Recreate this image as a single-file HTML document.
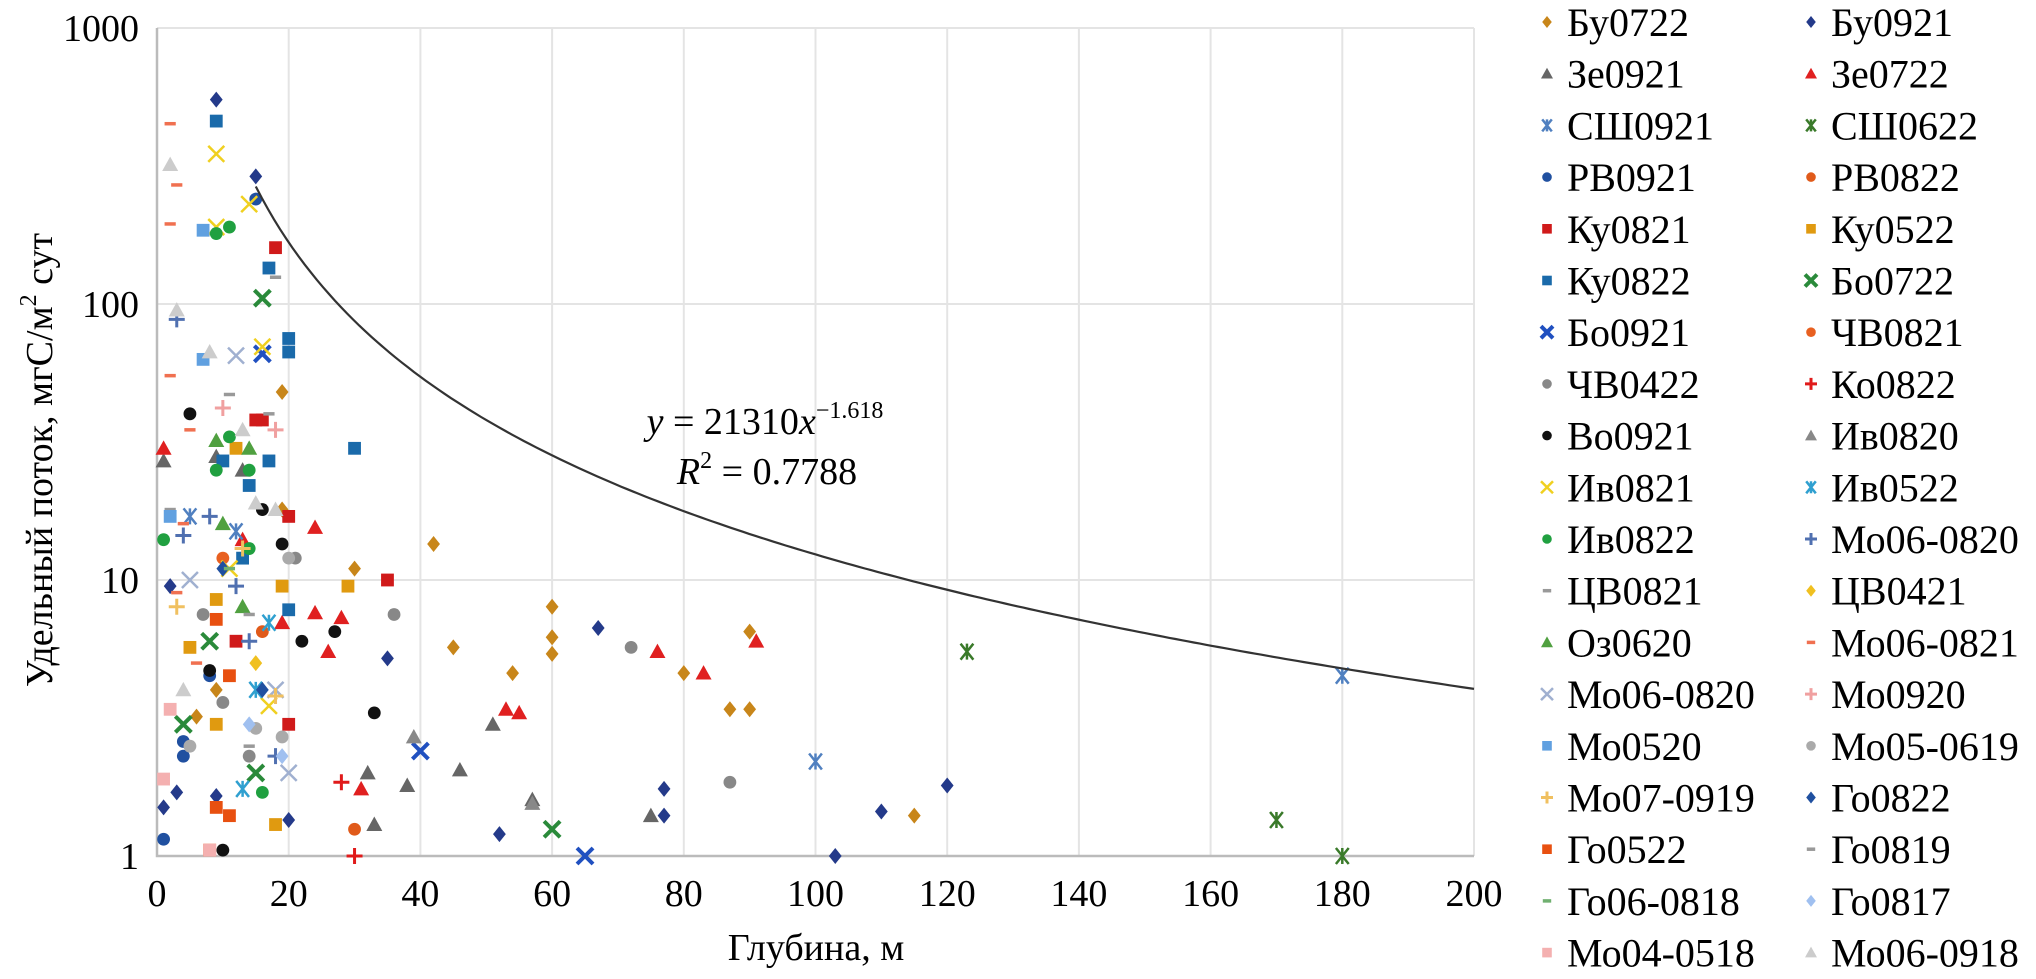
<!DOCTYPE html>
<html><head><meta charset="utf-8"><style>
body{margin:0;background:#fff;}
#chart, #chart text{font-family:"Liberation Serif","Noto Serif CJK SC",serif;}
</style></head><body>
<svg id="chart" width="2036" height="974" xmlns="http://www.w3.org/2000/svg" font-family="Liberation Serif, serif">
<g id="grid"></g>
<g id="axes"></g>
<g id="points"></g>
<path id="trend" fill="none" stroke="#333" stroke-width="2.2"/>
<text x="765" y="434" font-size="38" text-anchor="middle" font-family="Liberation Serif, serif"><tspan font-style="italic">y</tspan> = 21310<tspan font-style="italic">x</tspan><tspan font-size="24" dy="-16">−1.618</tspan></text>
<text x="767" y="484" font-size="38" text-anchor="middle" font-family="Liberation Serif, serif"><tspan font-style="italic">R</tspan><tspan font-size="24" dy="-16">2</tspan><tspan dy="16"> = 0.7788</tspan></text>
<text x="816" y="960" font-size="38" text-anchor="middle" font-family="Liberation Serif, serif">Глубина, м</text>
<text transform="translate(52,460) rotate(-90)" font-size="38" text-anchor="middle" font-family="Liberation Serif, serif">Удельный поток, мгС/м<tspan font-size="24" dy="-16">2</tspan><tspan dy="16"> сут</tspan></text>
<g id="legend"></g>
</svg>
<script>
const xTicks=[0,20,40,60,80,100,120,140,160,180,200];
const yTicks=[1,10,100,1000];
const seriesNames=["Бу0722","Бу0921","Зе0921","Зе0722","СШ0921","СШ0622","РВ0921","РВ0822","Ку0821","Ку0522","Ку0822","Бо0722","Бо0921","ЧВ0821","ЧВ0422","Ко0822","Во0921","Ив0820","Ив0821","Ив0522","Ив0822","Мо06-0820","ЦВ0821","ЦВ0421","Оз0620","Мо06-0821","Мо06-0820","Мо0920","Мо0520","Мо05-0619","Мо07-0919","Го0822","Го0522","Го0819","Го06-0818","Го0817","Мо04-0518","Мо06-0918"];
const seriesColors=["#c8861a","#243a8a","#666","#e02020","#5080c0","#3a7a2a","#2050a0","#e05a1a","#d01a1a","#e09a10","#1a6aaa","#2a8a3a","#2050c0","#e86020","#888","#e01a1a","#111","#888","#f0d020","#30a0d0","#20a040","#5070b0","#999","#f0c020","#50a040","#f07050","#a0b0d0","#f0a0a0","#60a0e0","#aaa","#f0c060","#2050a0","#e85010","#999","#70b070","#a0c0f0","#f4b0b0","#ccc"];
const seriesShapes=["diamond","diamond","triangle","triangle","star","star","circle","circle","square","square","square","xthick","xthick","circle","circle","plus","circle","triangle","x","star","circle","plus","dash","diamond","triangle","dash","x","plus","square","circle","plus","diamond","square","dash","dash","diamond","square","triangle"];
const s0=[[19,48],[30,11],[42,13.5],[45,5.7],[54,4.6],[60,8],[60,6.2],[60,5.4],[80,4.6],[87,3.4],[90,3.4],[90,6.5],[115,1.4],[19,18],[9,4],[6,3.2]];
const s1=[[9,550],[15,290],[2,9.5],[35,5.2],[52,1.2],[67,6.7],[77,1.75],[77,1.4],[103,1],[110,1.45],[120,1.8],[3,1.7],[1,1.5],[20,1.35],[9,1.65]];
const s2=[[1,27],[32,2],[33,1.3],[38,1.8],[46,2.05],[51,3],[57,1.6],[75,1.4],[9,28],[13,25]];
const s3=[[1,30],[24,15.5],[24,7.6],[26,5.5],[28,7.3],[31,1.75],[53,3.4],[55,3.3],[76,5.5],[83,4.6],[91,6],[13,14],[19,7]];
const s4=[[100,2.2],[180,4.5],[12,15],[5,17]];
const s5=[[123,5.5],[170,1.35],[180,1]];
const s6=[[15,240],[4,2.3],[1,1.15],[8,4.5],[4,2.6]];
const s7=[[30,1.25],[16,6.5]];
const s8=[[18,160],[15,38],[35,10],[20,17],[20,3],[12,6],[16,38]];
const s9=[[9,3],[19,9.5],[29,9.5],[18,1.3],[9,8.5],[5,5.7],[12,30]];
const s10=[[9,460],[17,135],[20,75],[30,30],[17,27],[10,27],[20,7.8],[13,12],[14,22],[20,67]];
const s11=[[16,105],[60,1.25],[4,3],[15,2],[8,6]];
const s12=[[16,66],[40,2.4],[65,1]];
const s13=[[10,12]];
const s14=[[72,5.7],[87,1.85],[36,7.5],[21,12],[10,3.6],[7,7.5],[14,2.3]];
const s15=[[28,1.85],[30,1]];
const s16=[[33,3.3],[5,40],[19,13.5],[22,6],[27,6.5],[10,1.05],[16,18],[8,4.7]];
const s17=[[39,2.7],[57,1.55]];
const s18=[[9,350],[9,190],[14,230],[16,70],[11,11],[17,3.5]];
const s19=[[15,4],[13,1.75],[17,7]];
const s20=[[9,180],[11,190],[9,25],[11,33],[14,13],[16,1.7],[1,14],[14,25]];
const s21=[[3,88],[4,14.5],[14,6],[12,9.5],[18,2.3],[8,17]];
const s22=[[18,125],[17,40],[11,47],[2,18],[14,2.5]];
const s23=[[15,5]];
const s24=[[9,32],[14,30],[13,8],[10,16]];
const s25=[[2,450],[3,270],[2,195],[2,55],[5,35],[4,16],[3,9],[6,5]];
const s26=[[12,65],[20,2],[18,4],[5,10]];
const s27=[[10,42],[18,35]];
const s28=[[7,185],[2,17],[7,63]];
const s29=[[20,12],[19,2.7],[5,2.5],[15,2.9]];
const s30=[[13,13],[18,3.8],[3,8]];
const s31=[[16,4],[10,11]];
const s32=[[11,4.5],[9,1.5],[11,1.4],[8,1.05],[9,7.2]];
const s33=[[14,7.5]];
const s34=[[11,11]];
const s35=[[14,3],[19,2.3]];
const s36=[[1,1.9],[2,3.4],[8,1.05]];
const s37=[[2,320],[3,95],[8,67],[13,35],[4,4],[15,19],[18,18]];
const seriesData=[s0,s1,s2,s3,s4,s5,s6,s7,s8,s9,s10,s11,s12,s13,s14,s15,s16,s17,s18,s19,s20,s21,s22,s23,s24,s25,s26,s27,s28,s29,s30,s31,s32,s33,s34,s35,s36,s37];
const trendA=21310, trendB=-1.618, trendX0=15, trendX1=200;

const NS="http://www.w3.org/2000/svg";
const X0=157,X1=1474,Y0=856,Y1=28;
const xs=v=>X0+(v-0)/(200-0)*(X1-X0);
const ys=v=>Y0-(Math.log10(v)-0)/3*(Y0-Y1);
function mk(tag,attrs,parent){const e=document.createElementNS(NS,tag);for(const k in attrs)e.setAttribute(k,attrs[k]);parent.appendChild(e);return e;}
const FF='Liberation Serif, serif';
const grid=document.getElementById('grid'),axes=document.getElementById('axes');
xTicks.forEach(t=>{if(t>0){const l=mk('line',{x1:xs(t),x2:xs(t),y1:Y1,y2:Y0,stroke:'#e4e4e4','stroke-width':2},grid);}
 const tx=mk('text',{x:xs(t),y:Y0+50,'font-size':38,'text-anchor':'middle','font-family':FF},axes);tx.textContent=t;});
yTicks.forEach(t=>{if(t>1){const l=mk('line',{x1:X0,x2:X1,y1:ys(t),y2:ys(t),stroke:'#e4e4e4','stroke-width':2},grid);}
 const tx=mk('text',{x:X0-18,y:ys(t)+13,'font-size':38,'text-anchor':'end','font-family':FF},axes);tx.textContent=t;});
const ax=mk('path',{d:`M${X0},${Y1}V${Y0}H${X1}`,fill:'none',stroke:'#bbb','stroke-width':2.5},axes);



function marker(shape,color,cx,cy,r,parent){
 const g=mk('g',{},parent);
 if(shape==='diamond')mk('path',{d:`M${cx},${cy-r}L${cx+r*0.8},${cy}L${cx},${cy+r}L${cx-r*0.8},${cy}Z`,fill:color},g);
 else if(shape==='triangle')mk('path',{d:`M${cx},${cy-r}L${cx+r},${cy+r*0.8}L${cx-r},${cy+r*0.8}Z`,fill:color},g);
 else if(shape==='circle')mk('circle',{cx,cy,r:r*0.8,fill:color},g);
 else if(shape==='square')mk('rect',{x:cx-r*0.8,y:cy-r*0.8,width:r*1.6,height:r*1.6,fill:color},g);
 else if(shape==='x'||shape==='xthick')mk('path',{d:`M${cx-r},${cy-r}L${cx+r},${cy+r}M${cx+r},${cy-r}L${cx-r},${cy+r}`,stroke:color,'stroke-width':shape==='x'?2.5:4},g);
 else if(shape==='plus')mk('path',{d:`M${cx-r},${cy}H${cx+r}M${cx},${cy-r}V${cy+r}`,stroke:color,'stroke-width':3},g);
 else if(shape==='star')mk('path',{d:`M${cx-r*0.8},${cy-r}L${cx+r*0.8},${cy+r}M${cx+r*0.8},${cy-r}L${cx-r*0.8},${cy+r}M${cx},${cy-r}V${cy+r}`,stroke:color,'stroke-width':2.5},g);
 else if(shape==='dash')mk('path',{d:`M${cx-r*0.7},${cy}H${cx+r*0.7}`,stroke:color,'stroke-width':3.5},g);
 return g;
}
const pts=document.getElementById('points');
seriesData.forEach((arr,i)=>{arr.forEach(p=>{const m=marker(seriesShapes[i],seriesColors[i],xs(p[0]),ys(p[1]),8,pts);
 
 });});
let d='';for(let k=0;k<=200;k++){const x=trendX0+(trendX1-trendX0)*k/200;d+=(k?'L':'M')+xs(x).toFixed(1)+','+ys(trendA*Math.pow(x,trendB)).toFixed(1);}
document.getElementById('trend').setAttribute('d',d);
const lg=document.getElementById('legend');
seriesNames.forEach((n,i)=>{const col=i%2,row=Math.floor(i/2);const mx=col?1811:1547,yy=22+row*51.7;
 const g=mk('g',{},lg);
 
 
 marker(seriesShapes[i],seriesColors[i],mx,yy,6,g);
 const t=mk('text',{x:mx+20,y:yy+14,'font-size':40,'font-family':FF},g);t.textContent=n;});
</script>
</body></html>
